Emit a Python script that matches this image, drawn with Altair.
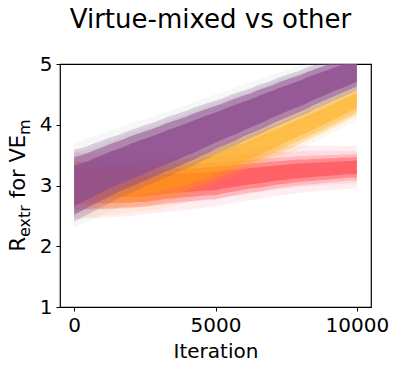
import altair as alt
import pandas as pd

# Iteration grid for the noisy line envelopes
iters = list(range(0, 10001, 250))

# Red series (flat ~3.0 -> 3.3): envelope of the noisy trace
red_lo = [2.70, 2.70, 2.70, 2.71, 2.70, 2.71, 2.71, 2.72, 2.72, 2.73,
          2.73, 2.75, 2.76, 2.78, 2.79, 2.80, 2.81, 2.82, 2.83, 2.84,
          2.84, 2.87, 2.89, 2.91, 2.93, 2.95, 2.96, 2.98, 3.00, 3.02,
          3.03, 3.05, 3.06, 3.07, 3.08, 3.09, 3.10, 3.11, 3.12, 3.13, 3.13]
red_hi = [3.30, 3.29, 3.29, 3.28, 3.28, 3.28, 3.28, 3.27, 3.27, 3.27,
          3.27, 3.27, 3.27, 3.27, 3.28, 3.28, 3.28, 3.29, 3.29, 3.30,
          3.31, 3.32, 3.33, 3.34, 3.35, 3.36, 3.37, 3.38, 3.39, 3.40,
          3.41, 3.42, 3.43, 3.43, 3.44, 3.44, 3.45, 3.45, 3.46, 3.46, 3.47]

# Orange series (3.0 -> 4.4)
orange_lo = [2.70, 2.71, 2.71, 2.71, 2.71, 2.72, 2.72, 2.73, 2.73, 2.74,
             2.76, 2.78, 2.81, 2.83, 2.86, 2.89, 2.93, 2.97, 3.01, 3.05,
             3.10, 3.15, 3.20, 3.25, 3.31, 3.36, 3.42, 3.47, 3.53, 3.58,
             3.64, 3.69, 3.75, 3.80, 3.86, 3.91, 3.97, 4.03, 4.09, 4.15, 4.21]
orange_hi = [3.30, 3.30, 3.29, 3.29, 3.29, 3.30, 3.30, 3.30, 3.31, 3.31,
             3.32, 3.34, 3.36, 3.38, 3.40, 3.42, 3.45, 3.48, 3.52, 3.56,
             3.60, 3.65, 3.69, 3.74, 3.78, 3.83, 3.88, 3.93, 3.97, 4.02,
             4.07, 4.12, 4.17, 4.22, 4.27, 4.32, 4.37, 4.43, 4.48, 4.53, 4.58]

# Purple series (3.0 -> 4.9)
purple_lo = [2.52, 2.58, 2.64, 2.70, 2.76, 2.82, 2.88, 2.93, 2.98, 3.03,
             3.08, 3.13, 3.18, 3.23, 3.28, 3.33, 3.38, 3.43, 3.49, 3.54,
             3.60, 3.65, 3.70, 3.75, 3.81, 3.86, 3.91, 3.96, 4.02, 4.07,
             4.12, 4.17, 4.22, 4.27, 4.33, 4.38, 4.43, 4.48, 4.53, 4.58, 4.63]
purple_hi = [3.47, 3.50, 3.54, 3.59, 3.63, 3.68, 3.72, 3.76, 3.81, 3.85,
             3.89, 3.93, 3.97, 4.02, 4.06, 4.10, 4.14, 4.19, 4.23, 4.27,
             4.31, 4.35, 4.40, 4.44, 4.48, 4.52, 4.57, 4.61, 4.65, 4.70,
             4.74, 4.78, 4.82, 4.87, 4.91, 4.95, 4.99, 5.03, 5.07, 5.11, 5.14]

# Faint shaded spread bands (coarser grid)
band_iters = list(range(0, 10001, 1000))
red_band_lo = [2.45, 2.47, 2.50, 2.55, 2.60, 2.66, 2.74, 2.82, 2.88, 2.92, 2.95]
red_band_hi = [3.55, 3.53, 3.52, 3.55, 3.58, 3.60, 3.63, 3.65, 3.66, 3.66, 3.65]
orange_band_lo = [2.45, 2.50, 2.55, 2.60, 2.72, 2.95, 3.17, 3.38, 3.60, 3.84, 4.08]
orange_band_hi = [3.55, 3.50, 3.47, 3.46, 3.54, 3.75, 3.93, 4.12, 4.32, 4.52, 4.72]
purple_band_lo = [2.30, 2.52, 2.74, 2.95, 3.17, 3.38, 3.60, 3.82, 4.03, 4.25, 4.48]
purple_band_hi = [3.70, 3.86, 4.02, 4.17, 4.33, 4.50, 4.66, 4.82, 4.97, 5.13, 5.28]

x_ticks = [0, 5000, 10000]
y_ticks = [1, 2, 3, 4, 5]

# y-axis title pieces: (text, size, subscript, leading space)
ylabel_parts = [("R", 21, False, False), ("extr", 16, True, False),
                ("for VE", 21, False, True), ("m", 16, True, False)]

FONT = "DejaVu Sans"
W, H = 311, 243

x_enc = alt.X("it:Q", scale=alt.Scale(domain=[-500, 10500], nice=False, zero=False),
              axis=alt.Axis(values=x_ticks, format="d", title="Iteration"))
y_enc = alt.Y("lo:Q", scale=alt.Scale(domain=[1, 5], nice=False, zero=False),
              axis=alt.Axis(values=y_ticks, title=None))


def area_layer(xs, lo, hi, color, opacity, shrink=1.0):
    df = pd.DataFrame({"it": xs, "lo": lo, "hi": hi})
    if shrink != 1.0:
        mid = (df["lo"] + df["hi"]) / 2
        half = (df["hi"] - df["lo"]) / 2 * shrink
        df["lo"] = mid - half
        df["hi"] = mid + half
    return alt.Chart(df).mark_area(color=color, opacity=opacity, clip=True,
                                   interpolate="linear").encode(
        x=x_enc, y=y_enc, y2="hi:Q")


layers = [
    area_layer(band_iters, red_band_lo, red_band_hi, "#ff8a9a", 0.14),
    area_layer(band_iters, red_band_lo, red_band_hi, "#ff8a9a", 0.2, 0.75),
    area_layer(band_iters, orange_band_lo, orange_band_hi, "#ffb347", 0.12),
    area_layer(band_iters, orange_band_lo, orange_band_hi, "#ffb347", 0.15, 0.75),
    area_layer(band_iters, purple_band_lo, purple_band_hi, "#a9c6b8", 0.12),
    area_layer(band_iters, purple_band_lo, purple_band_hi, "#a9c6b8", 0.15, 0.75),
    area_layer(iters, red_lo, red_hi, "#ff5a5f", 0.25, 1.3),
    area_layer(iters, red_lo, red_hi, "#ff5a5f", 0.5),
    area_layer(iters, red_lo, red_hi, "#ff5a5f", 0.85, 0.65),
    area_layer(iters, orange_lo, orange_hi, "#ffa600", 0.15, 1.3),
    area_layer(iters, orange_lo, orange_hi, "#ffa600", 0.3),
    area_layer(iters, orange_lo, orange_hi, "#ffa600", 0.4, 0.65),
    area_layer(iters, purple_lo, purple_hi, "#8f4f90", 0.25, 1.25),
    area_layer(iters, purple_lo, purple_hi, "#8f4f90", 0.55),
    area_layer(iters, purple_lo, purple_hi, "#8f4f90", 0.8, 0.7),
]

# Composite y-axis title (main text + subscripts), drawn left of the axis
adv = {"R": 0.695, "e": 0.615, "x": 0.592, "t": 0.392, "r": 0.411, " ": 0.318,
       "f": 0.352, "o": 0.612, "V": 0.684, "E": 0.632, "m": 0.974}


def width_of(text, size, space):
    return (sum(adv[c] for c in text) + (adv[" "] if space else 0)) * size


total = sum(width_of(t, s, sp) for t, s, _, sp in ylabel_parts)
pos = H / 2 + total / 2
base_x = -35
for text, size, sub, space in ylabel_parts:
    if space:
        pos -= adv[" "] * size
    layers.append(
        alt.Chart(pd.DataFrame({"t": [text]})).mark_text(
            angle=270, align="left", baseline="alphabetic", font=FONT,
            fontSize=size, color="black").encode(
            x=alt.value(base_x + (5 if sub else 0)), y=alt.value(pos),
            text="t:N"))
    pos -= sum(adv[c] for c in text) * size

chart = alt.layer(*layers).properties(
    width=W, height=H,
    padding={"left": 52, "top": 56, "right": 20, "bottom": 60},
    autosize=alt.AutoSizeParams(type="none"),
    title=alt.TitleParams("Virtue-mixed vs other", fontSize=26, font=FONT,
                          fontWeight="normal", color="black", anchor="middle",
                          frame="group", dx=-5, offset=21),
).configure_view(
    stroke="black", strokeWidth=1.2
).configure_axis(
    domain=False, grid=False, ticks=True, tickColor="black", tickSize=4,
    tickWidth=1, labelFont=FONT, labelFontSize=20, labelColor="black",
    titleFont=FONT, titleFontSize=20, titleFontWeight="normal", titleColor="black",
    labelPadding=4,
).configure_axisX(
    titlePadding=6
)

chart.save("out.html", embed_options={"renderer": "svg", "actions": False})
